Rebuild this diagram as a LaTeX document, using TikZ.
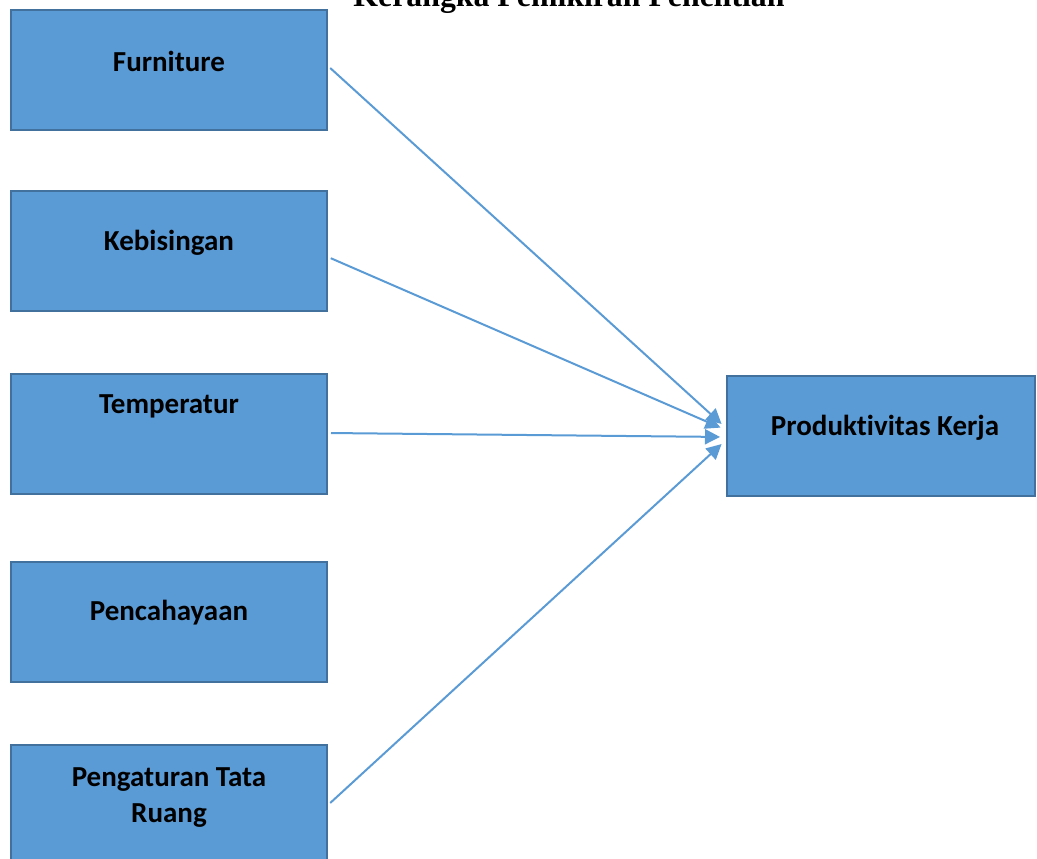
\documentclass[tikz,border=0pt]{standalone}
\usepackage{fontspec}
\setmainfont{Carlito}[Ligatures=NoCommon]
\newfontfamily\titlefont{Liberation Serif}
\usetikzlibrary{arrows.meta}
\definecolor{boxfill}{HTML}{5B9BD5}
\definecolor{boxline}{HTML}{41719C}
\tikzset{
  box/.style={draw=boxline, line width=2pt, fill=boxfill, rectangle, minimum width=316pt, minimum height=120pt, inner sep=0pt},
  lbl/.style={font=\fontsize{29}{36}\selectfont\bfseries, align=center, inner sep=0pt},
  conn/.style={draw=boxfill, line width=2pt, -{Triangle[length=15pt,width=15pt]}, shorten <=3pt, shorten >=6pt}
}
\begin{document}
\begin{tikzpicture}[x=1pt,y=-1pt]
\useasboundingbox (0,0) rectangle (1037,859);
\node[font=\titlefont\fontsize{31.8}{32}\selectfont\bfseries, anchor=base, inner sep=0pt] (title) at (569,7) {Kerangka Pemikiran Penelitian};
\node[box] (f) at (169,70) {};
\node[lbl] (ft) at (169,61) {Furniture};
\node[box] (k) at (169,251) {};
\node[lbl] (kt) at (169,243) {Kebisingan};
\node[box] (t) at (169,434) {};
\node[lbl] (tt) at (169,406) {Temperatur};
\node[box] (c) at (169,622) {};
\node[lbl] (ct) at (169,613) {Pencahayaan};
\node[box] (r) at (169,805) {};
\node[lbl] (rt) at (169,798) {Pengaturan Tata\\Ruang};
\node[box, minimum width=308pt] (p) at (881,436) {};
\node[lbl] (pt) at (885,428) {Produktivitas Kerja};
\draw[conn] ([yshift=4pt]f.east) -- ([yshift=8pt]p.west);
\draw[conn] ([yshift=-6pt]k.east) -- ([yshift=6pt]p.west);
\draw[conn] ([yshift=1pt]t.east) -- ([yshift=-1pt]p.west);
\draw[conn] ([yshift=0pt]r.east) -- ([yshift=-4pt]p.west);
\end{tikzpicture}
\end{document}
